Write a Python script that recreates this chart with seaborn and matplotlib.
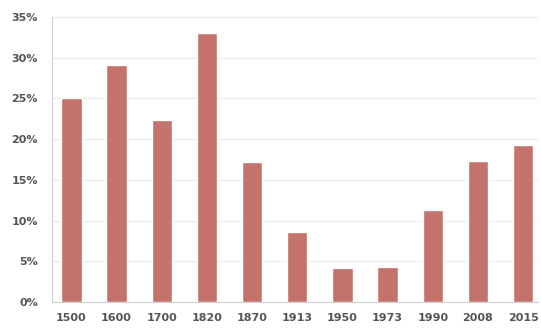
import matplotlib
matplotlib.use("Agg")
import matplotlib.pyplot as plt
import seaborn as sns
import pandas as pd
from matplotlib.ticker import FuncFormatter

years = ["1500", "1600", "1700", "1820", "1870", "1913", "1950", "1973", "1990", "2008", "2015"]
share = [25.0, 29.1, 22.4, 33.0, 17.2, 8.6, 4.2, 4.3, 11.3, 17.3, 19.3]
y_ticks = [0, 5, 10, 15, 20, 25, 30, 35]

df = pd.DataFrame({"year": years, "share": share})

sns.set_theme(style="white")
plt.rcParams["font.family"] = ["DejaVu Sans"]

fig = plt.figure(figsize=(5.41, 3.34), dpi=100)
ax = fig.add_axes([52 / 541, 1 - 302 / 334, (538 - 52) / 541, (302 - 17) / 334])

sns.barplot(data=df, x="year", y="share", color="#C4726C", saturation=1,
            width=0.45, ax=ax)

ax.set_ylim(0, 35)
ax.set_xlim(-0.43, 10.33)
ax.set_yticks(y_ticks)
ax.yaxis.set_major_formatter(FuncFormatter(lambda v, _: f"{int(v)}%"))
ax.grid(axis="y", color="#ececec", linewidth=0.8)
ax.set_axisbelow(True)
ax.set_xlabel("")
ax.set_ylabel("")
for s in ["top", "right"]:
    ax.spines[s].set_visible(False)
for s in ["left", "bottom"]:
    ax.spines[s].set_color("#d0d0d0")
    ax.spines[s].set_linewidth(0.8)
ax.tick_params(axis="both", length=0, labelsize=8, labelcolor="#555555")
ax.tick_params(axis="y", pad=10)
ax.tick_params(axis="x", pad=8)
for lbl in ax.get_xticklabels() + ax.get_yticklabels():
    lbl.set_fontweight("bold")

fig.savefig("out.png", dpi=100)
